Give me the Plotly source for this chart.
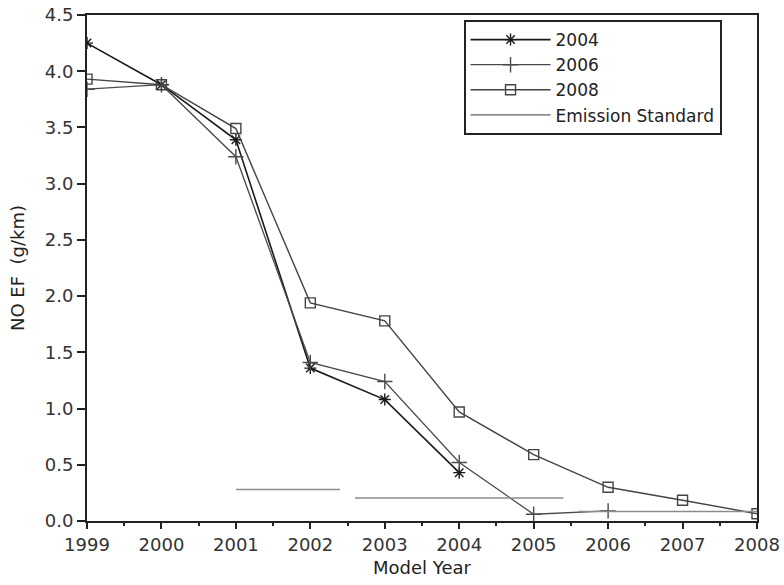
import plotly.graph_objects as go

years_2004 = [1999, 2000, 2001, 2002, 2003, 2004]
ef_2004 = [4.25, 3.88, 3.39, 1.36, 1.08, 0.43]

years_2006 = [1999, 2000, 2001, 2002, 2003, 2004, 2005, 2006]
ef_2006 = [3.84, 3.88, 3.24, 1.41, 1.24, 0.52, 0.06, 0.09]

years_2008 = [1999, 2000, 2001, 2002, 2003, 2004, 2005, 2006, 2007, 2008]
ef_2008 = [3.93, 3.88, 3.49, 1.94, 1.78, 0.97, 0.59, 0.30, 0.185, 0.065]

std_x = [2001, 2002.4, None, 2002.6, 2005.4, None, 2005.6, 2008]
std_y = [0.28, 0.28, None, 0.205, 0.205, None, 0.085, 0.085]

x_ticks = list(range(1999, 2009))
y_ticks = [0, 0.5, 1, 1.5, 2, 2.5, 3, 3.5, 4, 4.5]
y_labels = ["0.0", "0.5", "1.0", "1.5", "2.0", "2.5", "3.0", "3.5", "4.0", "4.5"]

FONT = "DejaVu Sans, Liberation Sans, Arial, sans-serif"

fig = go.Figure()
fig.add_trace(go.Scatter(x=years_2004, y=ef_2004, name="2004", mode="lines+markers",
                         line=dict(color="#1a1a1a", width=1.6),
                         marker=dict(symbol="asterisk-open", size=10, color="#1a1a1a",
                                     line=dict(color="#1a1a1a", width=1.4))))
fig.add_trace(go.Scatter(x=years_2006, y=ef_2006, name="2006", mode="lines+markers",
                         line=dict(color="#4a4a4a", width=1.3),
                         marker=dict(symbol="cross-thin-open", size=11, color="#4a4a4a",
                                     line=dict(color="#4a4a4a", width=1.4))))
fig.add_trace(go.Scatter(x=years_2008, y=ef_2008, name="2008", mode="lines+markers",
                         line=dict(color="#444444", width=1.4),
                         marker=dict(symbol="square-open", size=10, color="#444444",
                                     line=dict(color="#444444", width=1.4))))
fig.add_trace(go.Scatter(x=std_x, y=std_y, name="Emission Standard", mode="lines",
                         line=dict(color="#8c8c8c", width=1.6)))

fig.update_layout(
    width=784, height=585,
    margin=dict(l=87, r=27, t=15, b=64, autoexpand=False),
    paper_bgcolor="white", plot_bgcolor="white",
    font=dict(family=FONT, size=18, color="#333333"),
    showlegend=True,
    legend=dict(x=0.562, y=0.99, xanchor="left", yanchor="top",
                bordercolor="#222222", borderwidth=2, bgcolor="white",
                font=dict(family=FONT, size=17, color="#222222"),
                tracegroupgap=0, itemwidth=80),
    xaxis=dict(range=[1999, 2008], tickvals=x_ticks, ticktext=[str(v) for v in x_ticks],
               automargin=True,
               showgrid=False, zeroline=False, showline=True, linecolor="#222222",
               linewidth=2, mirror=True, ticks="outside", ticklen=6, tickwidth=2,
               tickcolor="#222222",
               minor=dict(dtick=0.5, tick0=1999, ticks="outside", ticklen=3,
                          tickwidth=2, tickcolor="#222222", showgrid=False),
               title=dict(text="Model Year", standoff=8,
                          font=dict(family=FONT, size=18, color="#222222")),
               tickfont=dict(family=FONT, size=18, color="#333333")),
    yaxis=dict(range=[0, 4.5], tickvals=y_ticks, ticktext=y_labels,
               automargin=False,
               showgrid=False, zeroline=False, showline=True, linecolor="#222222",
               linewidth=2, mirror=True, ticks="outside", ticklen=8, tickwidth=2,
               tickcolor="#222222",
               title=dict(text="NO EF&nbsp;&nbsp;(g/km)",
                          font=dict(family=FONT, size=18, color="#222222")),
               tickfont=dict(family=FONT, size=18, color="#333333")),
)

fig.write_html("out.html", config={"displayModeBar": False},
               post_script="document.body.style.margin='0';document.body.style.padding='0';")
